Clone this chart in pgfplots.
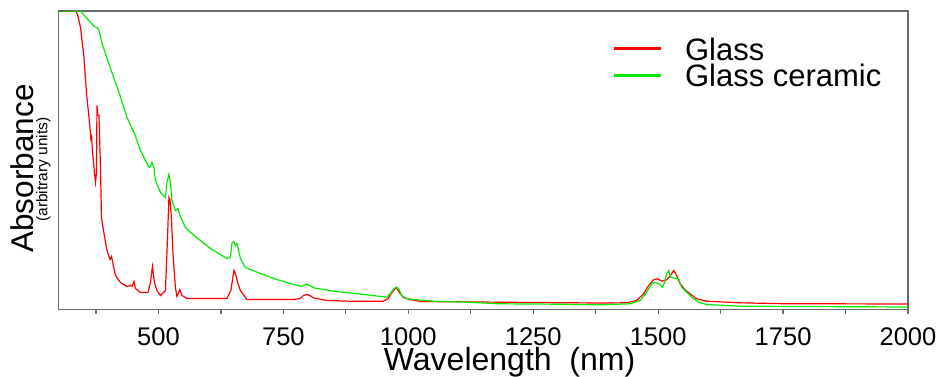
\documentclass[border=0pt]{standalone}
\usepackage{fontspec}
\setmainfont{Liberation Sans}
\usepackage{pgfplots}
\pgfplotsset{compat=1.18}
\definecolor{redc}{RGB}{255,0,0}
\definecolor{greenc}{RGB}{0,235,0}
\definecolor{axgray}{RGB}{105,105,105}
\begin{document}
\begin{tikzpicture}
\useasboundingbox (0,0) rectangle (940pt,376pt);
\begin{axis}[
  at={(58.5pt,66.5pt)}, anchor=south west,
  scale only axis, width=849.5pt, height=298.5pt,
  xmin=300, xmax=2000, ymin=0, ymax=298.3,
  xtick={500,750,1000,1250,1500,1750,2000},
  minor xtick={375,625,875,1125,1375,1625,1875},
  ytick=\empty,
  xtick pos=bottom,
  tick align=outside,
  major tick length=4pt, minor tick length=4pt,
  every tick/.style={axgray, line width=1.2pt},
  axis line style={axgray, line width=1.8pt},
  /pgf/number format/assume math mode=true,
  /pgf/number format/1000 sep={},
  xticklabel style={font=\fontsize{25.5}{25.5}\selectfont, anchor=north, inner sep=0pt, yshift=-14pt},
  xlabel={Wavelength\ \ (nm)},
  xlabel style={font=\fontsize{32}{32}\selectfont, at={(axis description cs:0.531,-0.2027)}, anchor=base, inner sep=0pt},
  ylabel={Absorbance},
  ylabel style={font=\fontsize{31.5}{31.5}\selectfont, at={(axis description cs:-0.0297,0.4724)}, anchor=base, rotate=0, inner sep=0pt},
  legend style={draw=none, fill=none, at={(axis description cs:0.6516,0.9095)}, anchor=north west,
    inner sep=0pt, outer sep=0pt, row sep=0pt, column sep=0pt,
    nodes={inner sep=0pt, outer sep=0pt, text height=22pt, text depth=4.7pt, font=\fontsize{31}{31}\selectfont},
    /tikz/every odd column/.append style={column sep=23pt}},
  legend cell align=left,
  legend image code/.code={\draw[#1, line width=3pt] (0pt,3pt) -- (47pt,3pt);},
  clip mode=individual,
]
\addplot[redc, line width=1.2pt] coordinates {
(300,298.3) (334,298.3) (338,295) (344,282) (351,252) (356,216) (361,192) (364,176)
(365,168) (366,175) (368,158) (371,142) (374,127) (376,136) (377,204) (379,194)
(381,194) (384,142) (386,92) (391,76) (397,59) (403,50) (406,53) (409,46) (414,34)
(424,27) (437,23) (444,24) (447,23) (451,28) (454,21) (464,17) (479,17) (484,27)
(488,43) (492,27) (497,19) (504,14) (514,19) (517,56) (521,112) (523,110) (526,92)
(529,56) (534,22) (537,13) (543,20) (547,14) (557,11) (604,11) (637,11) (645,19)
(651,39) (654,36) (659,26) (664,19) (671,14) (677,10) (771,10) (784,11) (790,14)
(797,15) (803,14) (810,11.7) (837,9) (884,8.3) (950,8.3) (960,11) (967,17) (976,22)
(982,17) (990,12) (1004,10) (1024,8) (1184,7.3) (1300,6.8) (1384,6.5) (1437,6.7)
(1457,9) (1471,15.7) (1481,24) (1491,29.7) (1499,30.7) (1507,28.3) (1517,29.7)
(1525,34) (1531,39) (1536,35) (1544,25.7) (1554,19.7) (1564,15.7) (1577,10.7)
(1597,8.3) (1664,6.7) (1750,5.8) (2000,5.5)
};
\addlegendentry{Glass}
\addplot[greenc, line width=1.2pt] coordinates {
(300,298.3) (344,298.3) (350,295) (357,291) (371,283) (377,282) (381,279) (387,266)
(404,241) (421,217) (437,192) (447,181) (452,176) (464,159) (481,142) (484,143)
(487,147) (491,142) (494,129) (504,117) (514,112) (517,127) (521,135) (524,127)
(527,109) (534,99) (539,101) (543,94) (554,82) (571,74) (604,61) (637,51) (644,52)
(647,66) (651,68) (654,64) (657,66) (664,51) (674,42) (704,36) (737,30) (771,25)
(787,23) (796,25.3) (804,24) (810,21.7) (851,18.3) (917,14.7) (957,12.3) (964,15.7)
(971,20.7) (976,22.3) (981,20.7) (987,14) (997,10.7) (1051,8.3) (1117,7.3)
(1184,5.7) (1300,5.3) (1384,4.7) (1444,5.7) (1464,9) (1477,17.3) (1487,25.7)
(1494,27.3) (1501,25.7) (1509,22.3) (1513,27.3) (1517,35.7) (1521,39) (1525,32.3)
(1534,31.3) (1541,30.7) (1547,22.3) (1557,17.3) (1567,12.3) (1581,7.3) (1597,5)
(1664,3.3) (2000,2.5)
};
\addlegendentry{Glass ceramic}
\node[font=\fontsize{15.5}{15.5}\selectfont, rotate=90, anchor=base, inner sep=0pt]
  at (axis description cs:-0.01295,0.469) {(arbitrary units)};
\end{axis}
\end{tikzpicture}
\end{document}
